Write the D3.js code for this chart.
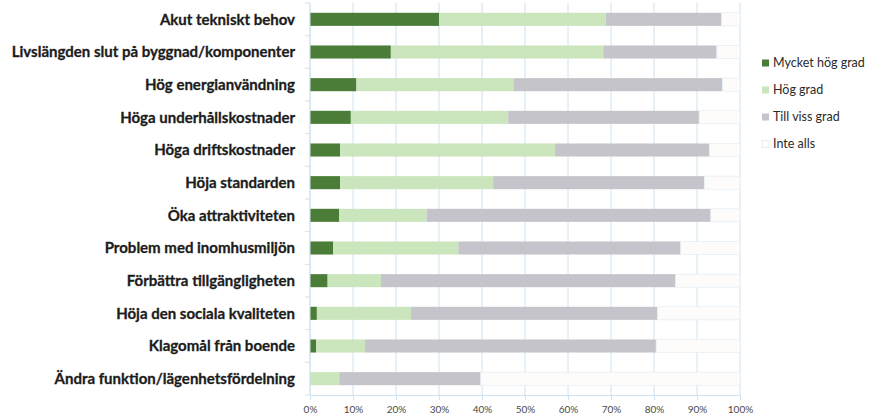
<!DOCTYPE html>
<html>
<head>
<meta charset="utf-8">
<script src="https://cdn.jsdelivr.net/npm/d3@7"></script>
<style>
  html, body { margin: 0; padding: 0; background: #ffffff; }
  svg { display: block; }
</style>
</head>
<body>
<svg id="chart" width="870" height="419"></svg>
<script>
// Reasons for renovation, share of answers per degree
const categories = [
  "Akut tekniskt behov",
  "Livslängden slut på byggnad/komponenter",
  "Hög energianvändning",
  "Höga underhållskostnader",
  "Höga driftskostnader",
  "Höja standarden",
  "Öka attraktiviteten",
  "Problem med inomhusmiljön",
  "Förbättra tillgängligheten",
  "Höja den sociala kvaliteten",
  "Klagomål från boende",
  "Ändra funktion/lägenhetsfördelning"
];
const seriesNames = ["Mycket hög grad", "Hög grad", "Till viss grad", "Inte alls"];
const mycketHogGrad = [30.0, 18.8, 10.8, 9.5, 7.0, 7.0, 6.8, 5.4, 4.1, 1.6, 1.4, 0.0];
const hogGrad       = [38.8, 49.4, 36.5, 36.6, 50.0, 35.6, 20.3, 29.1, 12.4, 21.9, 11.4, 6.8];
const tillVissGrad  = [26.9, 26.4, 48.6, 44.4, 35.9, 49.1, 66.1, 51.7, 68.5, 57.3, 67.7, 32.9];
const inteAlls      = [4.3, 5.4, 4.1, 9.5, 7.1, 8.3, 6.8, 13.8, 15.0, 19.2, 19.5, 60.3];
const tickValues = [0, 10, 20, 30, 40, 50, 60, 70, 80, 90, 100];

const colors = ["#4b7d39", "#cbe5bd", "#c5c4ca", "#fefcfb"];
const gridColor = "#cfe2f0";

const rows = categories.map((c, i) => ({
  category: c,
  [seriesNames[0]]: mycketHogGrad[i],
  [seriesNames[1]]: hogGrad[i],
  [seriesNames[2]]: tillVissGrad[i],
  [seriesNames[3]]: inteAlls[i]
}));

const svg = d3.select("#chart");
const x = d3.scaleLinear().domain([0, 100]).range([310, 740]);
const y = d3.scaleBand().domain(categories).range([3, 395]).paddingInner(0.6).paddingOuter(0.3);

// vertical gridlines
svg.append("g")
  .selectAll("line")
  .data(tickValues)
  .join("line")
  .attr("x1", d => x(d)).attr("x2", d => x(d))
  .attr("y1", 3).attr("y2", 395)
  .attr("stroke", gridColor)
  .attr("stroke-width", 1);

// stacked bars
const stack = d3.stack().keys(seriesNames);
const layers = stack(rows);

svg.append("g")
  .selectAll("g")
  .data(layers)
  .join("g")
  .attr("fill", (d, i) => colors[i])
  .attr("stroke", (d, i) => i === 3 ? "#e3edf5" : "none")
  .attr("stroke-width", 0.7)
  .selectAll("rect")
  .data(d => d)
  .join("rect")
  .attr("x", d => x(d[0]))
  .attr("width", d => Math.max(0, x(d[1]) - x(d[0])))
  .attr("y", d => y(d.data.category))
  .attr("height", y.bandwidth());

// y axis line with ticks between categories
const yAxis = svg.append("g");
yAxis.append("line")
  .attr("x1", 310).attr("x2", 310)
  .attr("y1", 3).attr("y2", 395)
  .attr("stroke", gridColor);
yAxis.selectAll("line.tk")
  .data(d3.range(categories.length + 1))
  .join("line")
  .attr("class", "tk")
  .attr("x1", 305).attr("x2", 310)
  .attr("y1", i => 3 + i * (392 / categories.length))
  .attr("y2", i => 3 + i * (392 / categories.length))
  .attr("stroke", gridColor);

// category labels
svg.append("g")
  .selectAll("text")
  .data(categories)
  .join("text")
  .attr("x", 295)
  .attr("y", d => y(d) + y.bandwidth() / 2)
  .attr("dy", "0.35em")
  .attr("text-anchor", "end")
  .attr("font-family", "Lato, 'Open Sans', sans-serif")
  .attr("font-weight", "bold")
  .attr("font-size", "15px")
  .attr("fill", "#1c1c1c")
  .attr("stroke", "#1c1c1c")
  .attr("stroke-width", 0.3)
  .text(d => d);

// x axis
const xAxis = d3.axisBottom(x)
  .tickValues(tickValues)
  .tickFormat(d => d + "%")
  .tickSize(5)
  .tickPadding(6);
const gx = svg.append("g")
  .attr("transform", "translate(0,395)")
  .call(xAxis);
gx.select(".domain").attr("stroke", gridColor);
gx.selectAll(".tick line").attr("stroke", gridColor);
gx.selectAll(".tick text")
  .attr("font-family", "Lato, 'Open Sans', sans-serif")
  .attr("font-size", "10px")
  .attr("fill", "#4a4a4a");

// legend
const legend = svg.append("g")
  .selectAll("g")
  .data(seriesNames)
  .join("g")
  .attr("transform", (d, i) => `translate(762, ${63 + i * 27})`);
legend.append("rect")
  .attr("x", 0).attr("y", -3.5)
  .attr("width", 7).attr("height", 7)
  .attr("fill", (d, i) => colors[i])
  .attr("stroke", (d, i) => i === 3 ? "#e6eef5" : "none");
legend.append("text")
  .attr("x", 11)
  .attr("dy", "0.35em")
  .attr("font-family", "Lato, 'Open Sans', sans-serif")
  .attr("font-size", "12.5px")
  .attr("fill", "#2a2a2a")
  .text(d => d);
</script>
</body>
</html>
